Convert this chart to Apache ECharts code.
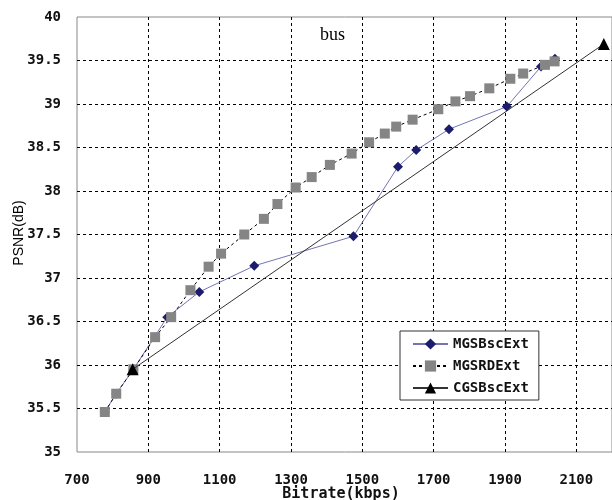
<!DOCTYPE html>
<html>
<head>
<meta charset="utf-8">
<script src="https://cdn.jsdelivr.net/npm/echarts@6/dist/echarts.min.js"></script>
<style>
  html, body { margin: 0; padding: 0; background: #fff; }
  #main { width: 612px; height: 500px; }
</style>
</head>
<body>
<div id="main"></div>
<script>
// bitrate (kbps) / PSNR (dB)
var mgsBscRate = [778, 810, 858, 953, 1043, 1197, 1475, 1600, 1651, 1743, 1905, 2001, 2040];
var mgsBscPsnr = [35.46, 35.67, 35.95, 36.55, 36.84, 37.14, 37.48, 38.28, 38.47, 38.71, 38.97, 39.43, 39.52];

var mgsRdRate = [778, 810, 858, 919, 964, 1018, 1069, 1104, 1169, 1224, 1262, 1313, 1358, 1409,
  1470, 1519, 1563, 1595, 1641, 1713, 1761, 1802, 1856, 1915, 1951, 2012, 2039];
var mgsRdPsnr = [35.46, 35.67, 35.95, 36.32, 36.55, 36.86, 37.13, 37.28, 37.50, 37.68, 37.85, 38.04, 38.16, 38.30,
  38.43, 38.56, 38.66, 38.74, 38.82, 38.94, 39.03, 39.09, 39.18, 39.29, 39.35, 39.45, 39.49];

var cgsRate = [856, 2177];
var cgsPsnr = [35.95, 39.69];

var seriesNames = ['MGSBscExt', 'MGSRDExt', 'CGSBscExt'];

function pairs(xs, ys) {
  return xs.map(function (x, i) { return [x, ys[i]]; });
}

var monoFont = 'DejaVu Sans Mono';
var chart = echarts.init(document.getElementById('main'));

var option = {
  backgroundColor: '#fff',
  animation: false,
  title: {
    text: 'bus',
    left: 320,
    top: 26,
    padding: 0,
    textStyle: { fontFamily: 'Liberation Serif', fontSize: 18, fontWeight: 'normal', color: '#000' }
  },
  grid: {
    left: 77, right: -3, top: 17, bottom: 48,
    show: true, borderColor: '#888', borderWidth: 1, backgroundColor: 'transparent'
  },
  legend: {
    orient: 'vertical',
    left: 400,
    top: 331,
    padding: [6, 10, 5, 12],
    itemWidth: 35,
    itemHeight: 14,
    itemGap: 8,
    backgroundColor: '#fff',
    borderColor: '#333',
    borderWidth: 1,
    borderRadius: 0,
    textStyle: { fontFamily: monoFont, fontSize: 14, fontWeight: 'bold', color: '#111' },
    data: seriesNames
  },
  xAxis: {
    type: 'value',
    min: 700, max: 2200, interval: 200,
    axisLine: { show: false },
    axisTick: { show: false },
    axisLabel: { margin: 21, showMaxLabel: false, fontFamily: monoFont, fontSize: 14, fontWeight: 'bold', color: '#111',
      formatter: function (v) { return String(v); } },
    splitLine: { show: true, showMinLine: false, showMaxLine: false,
      lineStyle: { color: '#000', width: 1, type: [3, 3] } }
  },
  yAxis: {
    type: 'value',
    min: 35, max: 40, interval: 0.5,
    axisLine: { show: false },
    axisTick: { show: false },
    axisLabel: { margin: 16, fontFamily: monoFont, fontSize: 14, fontWeight: 'bold', color: '#111' },
    splitLine: { show: true, showMinLine: false, showMaxLine: false,
      lineStyle: { color: '#000', width: 1, type: [3, 3] } }
  },
  graphic: [
    {
      type: 'text', x: 19, y: 233, rotation: Math.PI / 2,
      style: { text: 'PSNR(dB)', fontFamily: 'Liberation Sans', fontSize: 14,
        fill: '#000', align: 'center', verticalAlign: 'middle' }
    },
    {
      type: 'text', x: 341, y: 494,
      style: { text: 'Bitrate(kbps)', fontFamily: monoFont, fontSize: 15, fontWeight: 'bold',
        fill: '#111', align: 'center', verticalAlign: 'middle' }
    }
  ],
  series: [
    {
      name: seriesNames[0],
      type: 'line',
      data: pairs(mgsBscRate, mgsBscPsnr),
      symbol: 'diamond',
      symbolSize: 10,
      itemStyle: { color: '#1c1c6e' },
      lineStyle: { color: '#7474b4', width: 1 },
      z: 2
    },
    {
      name: seriesNames[1],
      type: 'line',
      data: pairs(mgsRdRate, mgsRdPsnr),
      symbol: 'rect',
      symbolSize: 10,
      itemStyle: { color: '#858585' },
      lineStyle: { color: '#000', width: 1, type: [3, 3] },
      z: 3
    },
    {
      name: seriesNames[2],
      type: 'line',
      data: pairs(cgsRate, cgsPsnr),
      symbol: 'triangle',
      symbolSize: 12,
      itemStyle: { color: '#000' },
      lineStyle: { color: '#333', width: 1 },
      z: 4
    }
  ]
};

chart.setOption(option);
</script>
</body>
</html>
